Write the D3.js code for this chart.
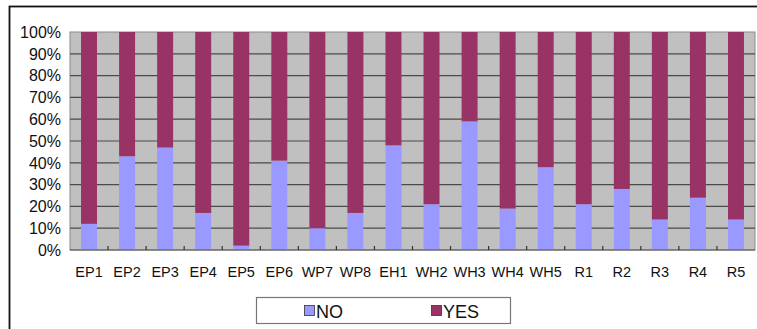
<!DOCTYPE html>
<html>
<head>
<meta charset="utf-8">
<script src="https://cdn.jsdelivr.net/npm/d3@7"></script>
<style>
  html, body { margin: 0; padding: 0; background: #ffffff; }
  svg { display: block; }
  text { font-family: "Liberation Sans", Arial, Helvetica, sans-serif; fill: #111; }
</style>
</head>
<body>
<svg id="chart" width="757" height="329"></svg>
<script>
// Sites and the share of answers per site (percent)
const categories = ["EP1","EP2","EP3","EP4","EP5","EP6","WP7","WP8","EH1","WH2","WH3","WH4","WH5","R1","R2","R3","R4","R5"];
const noValues  = [12, 43, 47, 17, 2, 41, 10, 17, 48, 21, 59, 19, 38, 21, 28, 14, 24, 14];
const yesValues = [88, 57, 53, 83, 98, 59, 90, 83, 52, 79, 41, 81, 62, 79, 72, 86, 76, 86];
const seriesNames = ["NO", "YES"];
const seriesColors = ["#9999ff", "#993366"];
const yTicks = [0, 10, 20, 30, 40, 50, 60, 70, 80, 90, 100];

const svg = d3.select("#chart");

// outer chart frame
svg.append("rect")
  .attr("x", 9.5).attr("y", 6.5)
  .attr("width", 800).attr("height", 400)
  .attr("fill", "none").attr("stroke", "#111").attr("stroke-width", 1.8);

const plot = { left: 70, right: 755, top: 32, bottom: 250 };

const x = d3.scaleBand()
  .domain(categories)
  .range([plot.left, plot.right])
  .paddingInner(0.58)
  .paddingOuter(0.29);

const y = d3.scaleLinear()
  .domain([0, 100])
  .range([plot.bottom, plot.top]);

// plot background
svg.append("rect")
  .attr("x", plot.left).attr("y", plot.top)
  .attr("width", plot.right - plot.left).attr("height", plot.bottom - plot.top)
  .attr("fill", "#c0c0c0").attr("stroke", "#8a8a8a").attr("stroke-width", 1);

// horizontal gridlines
svg.append("g")
  .selectAll("line")
  .data(yTicks.filter(t => t > 0 && t < 100))
  .join("line")
  .attr("x1", plot.left).attr("x2", plot.right)
  .attr("y1", d => y(d)).attr("y2", d => y(d))
  .attr("stroke", "#4a4a4a").attr("stroke-width", 1.2);

// stacked bars
const stackData = categories.map((c, i) => ({ cat: c, NO: noValues[i], YES: yesValues[i] }));
const stacked = d3.stack().keys(seriesNames)(stackData);

svg.append("g")
  .selectAll("g")
  .data(stacked)
  .join("g")
  .attr("fill", (d, i) => seriesColors[i])
  .selectAll("rect")
  .data(d => d)
  .join("rect")
  .attr("x", d => x(d.data.cat))
  .attr("width", x.bandwidth())
  .attr("y", d => y(d[1]))
  .attr("height", d => y(d[0]) - y(d[1]));

// category axis line and inside tick marks at category boundaries
const step = x.step();
const boundaries = d3.range(1, categories.length).map(i => plot.left + i * step);
svg.append("line")
  .attr("x1", plot.left).attr("x2", plot.right)
  .attr("y1", plot.bottom).attr("y2", plot.bottom)
  .attr("stroke", "#555").attr("stroke-width", 1.2);
svg.append("g")
  .selectAll("line")
  .data(boundaries)
  .join("line")
  .attr("x1", d => d).attr("x2", d => d)
  .attr("y1", plot.bottom).attr("y2", plot.bottom - 4)
  .attr("stroke", "#333").attr("stroke-width", 1.2);

// y tick labels
svg.append("g")
  .selectAll("text")
  .data(yTicks)
  .join("text")
  .attr("x", 61)
  .attr("y", d => y(d))
  .attr("dy", "0.36em")
  .attr("text-anchor", "end")
  .style("font-size", "16px")
  .text(d => d + "%");

// category labels
svg.append("g")
  .selectAll("text")
  .data(categories)
  .join("text")
  .attr("x", d => x(d) + x.bandwidth() / 2)
  .attr("y", 276.5)
  .attr("text-anchor", "middle")
  .style("font-size", "14.5px")
  .text(d => d);

// legend
const legend = svg.append("g");
legend.append("rect")
  .attr("x", 256.5).attr("y", 297.5)
  .attr("width", 254).attr("height", 26)
  .attr("fill", "#fff").attr("stroke", "#777").attr("stroke-width", 1.2);
const legendX = [304, 431];
seriesNames.forEach((name, i) => {
  legend.append("rect")
    .attr("x", legendX[i] + 0.5).attr("y", 305.5)
    .attr("width", 10).attr("height", 10)
    .attr("fill", seriesColors[i]).attr("stroke", "#333").attr("stroke-width", 0.8);
  legend.append("text")
    .attr("x", legendX[i] + 12).attr("y", 317.5)
    .style("font-size", "18px")
    .text(name);
});
</script>
</body>
</html>
